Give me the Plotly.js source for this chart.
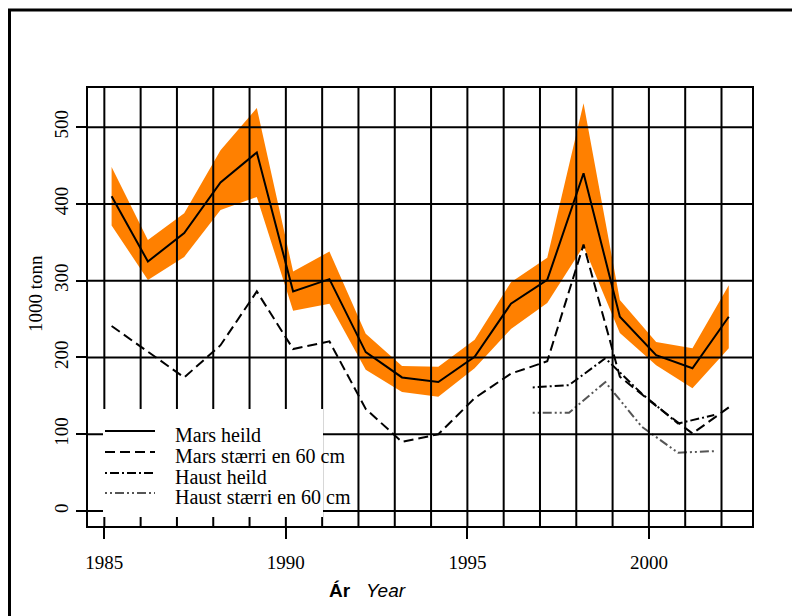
<!DOCTYPE html>
<html>
<head>
<meta charset="utf-8">
<script src="https://cdn.plot.ly/plotly-3.0.1.min.js"></script>
<style>
  html, body { margin: 0; padding: 0; background: #fff; }
  #chart { width: 792px; height: 616px; }
</style>
</head>
<body>
<div id="chart"></div>
<script>
// ---- data ----
const marsYears = [1985.2, 1986.2, 1987.2, 1988.2, 1989.2, 1990.2, 1991.2, 1992.2, 1993.2,
                   1994.2, 1995.2, 1996.2, 1997.2, 1998.2, 1999.2, 2000.2, 2001.2, 2002.2];
const marsHeild = [410, 325, 362, 428, 467, 286, 302, 207, 174, 168, 201, 270, 301, 440, 253, 203, 186, 253];
const marsUpper = [448, 353, 388, 470, 525, 312, 338, 231, 189, 188, 223, 298, 330, 531, 275, 220, 212, 294];
const marsLower = [372, 301, 331, 392, 409, 261, 270, 184, 155, 149, 186, 237, 271, 345, 232, 190, 160, 212];
const marsStaerri = [241, 208, 174, 216, 286, 211, 221, 133, 90, 100, 147, 179, 195, 347, 175, 137, 101, 135];

const haustYears = [1996.8, 1997.8, 1998.8, 1999.8, 2000.8, 2001.8];
const haustHeild = [161, 164, 199, 153, 114, 125];
const haustStaerri = [128, 128, 168, 110, 76, 78];

const seriesNames = ["Mars heild", "Mars stærri en 60 cm", "Haust heild", "Haust stærri en 60 cm"];
const xTickVals = [1985, 1990, 1995, 2000];
const yTickVals = [0, 100, 200, 300, 400, 500];
const gridYears = [1985, 1986, 1987, 1988, 1989, 1990, 1991, 1992, 1993, 1994, 1995, 1996, 1997,
                   1998, 1999, 2000, 2001, 2002];

const serif = "Liberation Serif, Times New Roman, serif";
const sans = "Liberation Sans, Arial, sans-serif";

// styles per series
const lineStyles = [
  { color: "black", width: 2 },
  { color: "black", width: 2, dash: "10px,5px" },
  { color: "black", width: 2, dash: "2px,3px,9px,3px" },
  { color: "#555", width: 2, dash: "2px,3px,2px,3px,9px,3px" }
];

// band polygon built from upper and lower arrays
const bandX = marsYears.concat(marsYears.slice().reverse());
const bandY = marsUpper.concat(marsLower.slice().reverse());

const traces = [
  { x: bandX, y: bandY, type: "scatter", mode: "lines", fill: "toself",
    fillcolor: "#FF8000", line: { width: 0, color: "#FF8000" }, showlegend: false, hoverinfo: "skip" },
  { x: marsYears, y: marsHeild, type: "scatter", mode: "lines", name: seriesNames[0], line: lineStyles[0] },
  { x: marsYears, y: marsStaerri, type: "scatter", mode: "lines", name: seriesNames[1], line: lineStyles[1] },
  { x: haustYears, y: haustHeild, type: "scatter", mode: "lines", name: seriesNames[2], line: lineStyles[2] },
  { x: haustYears, y: haustStaerri, type: "scatter", mode: "lines", name: seriesNames[3], line: lineStyles[3] }
];

// plot area geometry (px) for converting legend placement to paper coords
const L = 88, R = 752, T = 88, B = 526;
const px = v => (v - L) / (R - L);
const py = v => (B - v) / (B - T);

const shapes = [];
gridYears.forEach(yr => shapes.push({ type: "line", xref: "x", yref: "paper", x0: yr, x1: yr, y0: 0, y1: 1,
  line: { color: "black", width: 2 }, layer: "above" }));
yTickVals.forEach(v => shapes.push({ type: "line", xref: "paper", yref: "y", x0: 0, x1: 1, y0: v, y1: v,
  line: { color: "black", width: 2 }, layer: "above" }));
// outer frame (cropped on right and bottom)
shapes.push({ type: "rect", xref: "paper", yref: "paper", x0: px(9.5), x1: 1.2, y0: -0.3, y1: py(10),
  line: { color: "black", width: 3 }, fillcolor: "rgba(0,0,0,0)", layer: "above" });

// legend (drawn as a white box with line samples and text)
shapes.push({ type: "rect", xref: "paper", yref: "paper", x0: px(103), x1: px(323), y0: py(517), y1: py(409),
  line: { width: 0 }, fillcolor: "white", layer: "above" });
const sampleRows = [431, 452, 473, 493];
const textRows = [434.5, 455.5, 476.5, 497];
const annotations = [];
seriesNames.forEach((name, i) => {
  shapes.push({ type: "line", xref: "paper", yref: "paper", x0: px(105), x1: px(155),
    y0: py(sampleRows[i]), y1: py(sampleRows[i]), line: lineStyles[i], layer: "above" });
  annotations.push({ xref: "paper", yref: "paper", x: px(173), y: py(textRows[i]),
    xanchor: "left", yanchor: "middle", showarrow: false, text: name,
    font: { family: serif, size: 20, color: "black" } });
});
// x-axis title
annotations.push({
  xref: "paper", yref: "paper", x: px(367), y: py(590), xanchor: "center", yanchor: "middle",
  showarrow: false, text: "<b>Ár</b>   <i>Year</i>",
  font: { family: sans, size: 19, color: "black" }
});
// y-axis title
annotations.push({
  xref: "paper", yref: "paper", x: px(35), y: py(294), xanchor: "center", yanchor: "middle",
  showarrow: false, text: "1000 tonn", textangle: -90,
  font: { family: serif, size: 19, color: "black" }
});

const layout = {
  width: 792, height: 616,
  margin: { l: L, r: 792 - R, t: T, b: 616 - B },
  paper_bgcolor: "white", plot_bgcolor: "white",
  showlegend: false,
  xaxis: {
    range: [1984.55, 2002.84], tickvals: xTickVals, ticktext: xTickVals.map(String),
    ticks: "outside", ticklen: 11, tickwidth: 2, tickcolor: "black",
    showgrid: false, zeroline: false, showline: true, mirror: true, linecolor: "black", linewidth: 2,
    tickfont: { family: serif, size: 19, color: "black" }, ticklabelstandoff: 7
  },
  yaxis: {
    range: [-19.5, 551], tickvals: yTickVals, ticktext: yTickVals.map(String), tickangle: -90,
    ticks: "outside", ticklen: 10, tickwidth: 2, tickcolor: "black",
    showgrid: false, zeroline: false, showline: true, mirror: true, linecolor: "black", linewidth: 2,
    tickfont: { family: serif, size: 19, color: "black" }
  },
  shapes: shapes,
  annotations: annotations
};

Plotly.newPlot("chart", traces, layout, { displayModeBar: false, staticPlot: true });
</script>
</body>
</html>
